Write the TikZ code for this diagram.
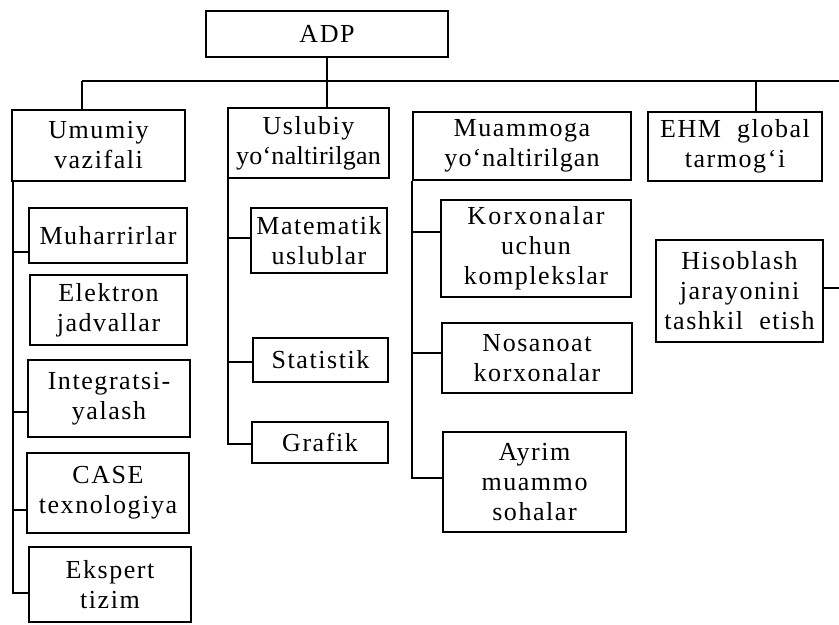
\documentclass[tikz,border=0pt]{standalone}
\usepackage{fontspec}
\setmainfont{Liberation Serif}[LetterSpace=6]
\begin{document}
\begin{tikzpicture}[x=1bp,y=-1bp,
  box/.style={draw, line width=1.8bp, inner sep=0pt, align=center,
    font=\fontsize{26bp}{30bp}\selectfont},
  conn/.style={line width=1.8bp}]
\useasboundingbox (0,0) rectangle (839,625);
% top
\node[box, minimum width=242bp, minimum height=46bp] (adp) at (327,34) {ADP};
% level 1
\node[box, minimum width=173bp, minimum height=71bp] (umumiy) at (98.5,145.5) {Umumiy\\vazifali};
\node[box, minimum width=161bp, minimum height=70bp] (uslubiy) at (308.5,143) {Uslubiy\\{\addfontfeature{LetterSpace=1}yo‘naltirilgan}};
\node[box, minimum width=218bp, minimum height=68bp] (muammoga) at (522,146) {Muammoga\\{\addfontfeature{LetterSpace=4}yo‘naltirilgan}};
\node[box, minimum width=174bp, minimum height=69bp] (ehm) at (735,146.5) {EHM\ \ global\\tarmog‘i};
% column 1
\node[box, minimum width=158bp, minimum height=55bp] (muh) at (108,235.5) {Muharrirlar};
\node[box, minimum width=157bp, minimum height=70bp] (elek) at (108.5,310) {Elektron\\jadvallar};
\node[box, minimum width=162bp, minimum height=77bp] (integ) at (109,398.5) {Integratsi-\\yalash};
\node[box, minimum width=162bp, minimum height=80bp] (case) at (108,493) {CASE\\texnologiya};
\node[box, minimum width=162bp, minimum height=75bp] (eksp) at (110,584.5) {Ekspert\\tizim};
% column 2
\node[box, minimum width=136bp, minimum height=65bp] (mat) at (319,240.5) {Matematik\\uslublar};
\node[box, minimum width=135bp, minimum height=44bp] (stat) at (320.5,360) {Statistik};
\node[box, minimum width=136bp, minimum height=41bp] (graf) at (320,442.5) {Grafik};
% column 3
\node[box, minimum width=190bp, minimum height=97bp] (korx) at (536,248.5) {{\addfontfeature{LetterSpace=8}Korxonalar}\\uchun\\komplekslar};
\node[box, minimum width=190bp, minimum height=70bp] (nosan) at (537,358) {Nosanoat\\korxonalar};
\node[box, minimum width=183bp, minimum height=100bp] (ayrim) at (534.5,482) {Ayrim\\muammo\\sohalar};
% column 4
\node[box, minimum width=167bp, minimum height=102bp] (hisob) at (739.5,291) {Hisoblash\\jarayonini\\tashkil\ \ etish};
% bus
\coordinate (busL) at (82,81);
\coordinate (busR) at (839,81);
\coordinate (ehmtap) at (756,81);
\draw[conn] (busL) -- (busR);
\draw[conn] (adp.south) -- (adp.south |- uslubiy.north);
\draw[conn] (busL) -- (busL |- umumiy.north);
\draw[conn] (ehmtap) -- (ehmtap |- ehm.north);
% column 1 spine
\coordinate (c1x) at ([xshift=2bp]umumiy.south west);
\coordinate (b11) at ([yshift=-16.5bp]muh.west);
\coordinate (b13) at ([yshift=-13.5bp]integ.west);
\coordinate (b14) at ([yshift=-17bp]case.west);
\coordinate (b15) at ([yshift=-8.5bp]eksp.west);
\draw[conn] (c1x) |- (b15);
\draw[conn] (b11) -- (b11 -| c1x);
\draw[conn] (b13) -- (b13 -| c1x);
\draw[conn] (b14) -- (b14 -| c1x);
% column 2 spine
\coordinate (c2x) at ([xshift=1bp]uslubiy.south west);
\coordinate (b21) at ([yshift=2.5bp]mat.west);
\coordinate (b22) at ([yshift=-2bp]stat.west);
\coordinate (b23) at ([yshift=-1.5bp]graf.west);
\draw[conn] (c2x) |- (b23);
\draw[conn] (b21) -- (b21 -| c2x);
\draw[conn] (b22) -- (b22 -| c2x);
% column 3 spine
\coordinate (c3x) at (muammoga.south west);
\coordinate (b31) at ([yshift=16.5bp]korx.west);
\coordinate (b32) at ([yshift=5bp]nosan.west);
\coordinate (b33) at ([yshift=4bp]ayrim.west);
\draw[conn] (c3x) |- (b33);
\draw[conn] (b31) -- (b31 -| c3x);
\draw[conn] (b32) -- (b32 -| c3x);
% column 4
\coordinate (b41) at ([yshift=3bp]hisob.east);
\draw[conn] (b41) -- (b41 -| busR);
\end{tikzpicture}
\end{document}
